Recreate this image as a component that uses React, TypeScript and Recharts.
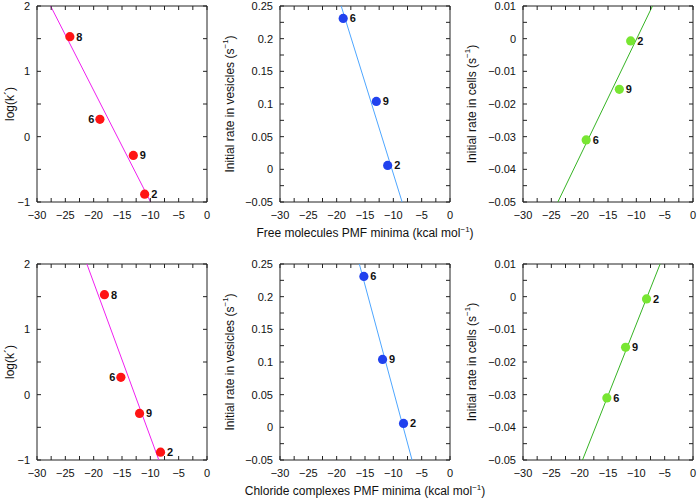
import { ComposedChart, Scatter, Line, XAxis, YAxis, ReferenceArea, LabelList } from "recharts";

// compounds and PMF minima (kcal/mol)
const compounds = ["8", "6", "9", "2"];
const freeMinima = [-24.2, -18.9, -13.0, -11.0];
const chlorideMinima = [-18.1, -15.2, -11.9, -8.2];
const logK = [1.53, 0.265, -0.287, -0.88];

// rate data only for 6, 9, 2
const rateCompounds = ["6", "9", "2"];
const freeRateMinima = [-18.85, -13.0, -11.0];
const chlorideRateMinima = [-15.2, -11.9, -8.2];
const vesicleRate = [0.231, 0.104, 0.006];
const cellRate = [-0.031, -0.0155, -0.0007];

// fitted lines, end points
const freeLogKFitX = [-27.6, -9.95];
const chlorideLogKFitX = [-21.2, -8.5];
const logKFitY = [2, -1];
const freeVesicleFitX = [-19.2, -8.45];
const chlorideVesicleFitX = [-16.0, -6.7];
const vesicleFitY = [0.25, -0.05];
const freeCellFitX = [-23.85, -7.15];
const chlorideCellFitX = [-19.5, -5.8];
const cellFitY = [-0.05, 0.01];

const xTicks = [-30, -27.5, -25, -22.5, -20, -17.5, -15, -12.5, -10, -7.5, -5, -2.5, 0];
const xMajor = [-30, -25, -20, -15, -10, -5, 0];
const logKTicks = [-1, -0.5, 0, 0.5, 1, 1.5, 2];
const logKMajor = [-1, 0, 1, 2];
const vesicleTicks = [-0.05, -0.025, 0, 0.025, 0.05, 0.075, 0.1, 0.125, 0.15, 0.175, 0.2, 0.225, 0.25];
const vesicleMajor = [-0.05, 0, 0.05, 0.1, 0.15, 0.2, 0.25];
const cellTicks = [-0.05, -0.045, -0.04, -0.035, -0.03, -0.025, -0.02, -0.015, -0.01, -0.005, 0, 0.005, 0.01];
const cellMajor = [-0.05, -0.04, -0.03, -0.02, -0.01, 0, 0.01];

const FONT = "'Liberation Sans', Arial, Helvetica, sans-serif";
const PW = 170;
const PH = 196;
const ML = 60;
const MR = 8;
const MT = 8;
const XH = 42;
const TICK = 4;
const INK = "#222";

const zip = (names: string[], xs: number[], ys: number[]) =>
  names.map((name, i) => ({ name, x: xs[i], y: ys[i] }));
const fitLine = (xs: number[], ys: number[]) => xs.map((x, i) => ({ x, y: ys[i] }));
const fmt = (v: number) => String(v).replace("-", "\u2212");
const isMajor = (v: number, major: number[]) => major.some((m) => Math.abs(m - v) < 1e-9);

const Sup = ({ text }: { text: string }) => (
  <>
    <tspan>{text} (s</tspan>
    <tspan dy={-5} fontSize={8}>{"\u22121"}</tspan>
    <tspan dy={5}>)</tspan>
  </>
);

function Panel(props: any) {
  const { left, top, points, fit, domain, yTicks, yMajor, color, lineColor, yLabel, yLabelOffset, xLabel, leftNames } = props;

  const xTick = (p: any) => {
    const v = p.payload.value;
    const bottom = p.y - 17;
    return (
      <g>
        <line x1={p.x} y1={bottom} x2={p.x} y2={bottom - TICK} stroke={INK} />
        <line x1={p.x} y1={bottom - PH} x2={p.x} y2={bottom - PH + TICK} stroke={INK} />
        {isMajor(v, xMajor) && (
          <text x={p.x} y={p.y} textAnchor="middle" fontSize={11} fill="#111" fontFamily={FONT}>
            {fmt(v)}
          </text>
        )}
      </g>
    );
  };

  const yTick = (p: any) => {
    const v = p.payload.value;
    const l = p.x + 7;
    return (
      <g>
        <line x1={l} y1={p.y} x2={l + TICK} y2={p.y} stroke={INK} />
        <line x1={l + PW} y1={p.y} x2={l + PW - TICK} y2={p.y} stroke={INK} />
        {isMajor(v, yMajor) && (
          <text x={p.x} y={p.y + 4} textAnchor="end" fontSize={11} fill="#111" fontFamily={FONT}>
            {fmt(v)}
          </text>
        )}
      </g>
    );
  };

  const pointLabel = (p: any) => {
    const vb = p.viewBox ?? p;
    const cx = vb.x + (vb.width ?? 0) / 2;
    const cy = vb.y + (vb.height ?? 0) / 2;
    const onLeft = leftNames.includes(String(p.value));
    return (
      <text
        x={onLeft ? cx - 5.5 : cx + 6.5}
        y={cy + 4}
        textAnchor={onLeft ? "end" : "start"}
        fontSize={11}
        fontWeight="bold"
        fill="#111"
        fontFamily={FONT}
      >
        {p.value}
      </text>
    );
  };

  return (
    <div style={{ position: "absolute", left: left - ML, top: top - MT }}>
      <ComposedChart width={ML + PW + MR} height={MT + PH + XH} margin={{ top: MT, right: MR, left: 0, bottom: 0 }}>
        <XAxis
          type="number"
          dataKey="x"
          domain={[-30, 0]}
          ticks={xTicks}
          interval={0}
          allowDataOverflow
          tickSize={0}
          tickMargin={17}
          tickLine={false}
          axisLine={false}
          tick={xTick}
          height={XH}
          label={
            xLabel
              ? {
                  content: (lp: any) => {
                    const vb = lp.viewBox;
                    return (
                      <text x={vb.x + vb.width / 2} y={vb.y + 35} textAnchor="middle" fontSize={12} fill="#111" fontFamily={FONT}>
                        <tspan>{xLabel} (kcal mol</tspan>
                        <tspan dy={-5} fontSize={8}>{"\u22121"}</tspan>
                        <tspan dy={5}>)</tspan>
                      </text>
                    );
                  },
                }
              : undefined
          }
        />
        <YAxis
          type="number"
          dataKey="y"
          domain={domain}
          ticks={yTicks}
          interval={0}
          allowDataOverflow
          tickSize={0}
          tickMargin={7}
          tickLine={false}
          axisLine={false}
          tick={yTick}
          width={ML}
          label={{
            content: (lp: any) => {
              const vb = lp.viewBox;
              const cx = vb.x + vb.width - yLabelOffset;
              const cy = vb.y + vb.height / 2;
              return (
                <text x={cx} y={cy} transform={`rotate(-90 ${cx} ${cy})`} textAnchor="middle" dominantBaseline="central" fontSize={12} fill="#111" fontFamily={FONT}>
                  {yLabel}
                </text>
              );
            },
          }}
        />
        <ReferenceArea x1={-30} x2={0} y1={domain[0]} y2={domain[1]} fill="none" fillOpacity={0} stroke={INK} strokeWidth={1} strokeOpacity={1} />
        <Scatter
          data={points}
          isAnimationActive={false}
          shape={(s: any) => <circle cx={s.cx} cy={s.cy} r={4.6} fill={color} />}
        >
          <LabelList dataKey="name" content={pointLabel} />
        </Scatter>
        <Line data={fit} dataKey="y" type="linear" stroke={lineColor} strokeWidth={1} dot={false} activeDot={false} isAnimationActive={false} />
      </ComposedChart>
    </div>
  );
}

const RED = "#ff1414";
const MAGENTA = "#f020f0";
const BLUE = "#2142ee";
const LIGHTBLUE = "#4ea6ff";
const GREEN = "#78e632";
const DARKGREEN = "#36b424";

export default function App() {
  const cols = [37, 280, 523];
  const rows = [6, 264];
  const logLabel = (
    <tspan>
      log(k{"\u00b4"})
    </tspan>
  );
  return (
    <div style={{ position: "absolute", left: 0, top: 0, width: 699, height: 500, background: "#fff", fontFamily: FONT }}>
      <style>{".recharts-surface{overflow:visible}"}</style>
      <Panel
        left={cols[0]} top={rows[0]}
        points={zip(compounds, freeMinima, logK)}
        fit={fitLine(freeLogKFitX, logKFitY)}
        domain={[-1, 2]} yTicks={logKTicks} yMajor={logKMajor}
        color={RED} lineColor={MAGENTA}
        yLabel={logLabel} yLabelOffset={27}
        leftNames={["6"]}
      />
      <Panel
        left={cols[1]} top={rows[0]}
        points={zip(rateCompounds, freeRateMinima, vesicleRate)}
        fit={fitLine(freeVesicleFitX, vesicleFitY)}
        domain={[-0.05, 0.25]} yTicks={vesicleTicks} yMajor={vesicleMajor}
        color={BLUE} lineColor={LIGHTBLUE}
        yLabel={<Sup text="Initial rate in vesicles" />} yLabelOffset={50}
        xLabel="Free molecules PMF minima"
        leftNames={[]}
      />
      <Panel
        left={cols[2]} top={rows[0]}
        points={zip(rateCompounds, freeRateMinima, cellRate)}
        fit={fitLine(freeCellFitX, cellFitY)}
        domain={[-0.05, 0.01]} yTicks={cellTicks} yMajor={cellMajor}
        color={GREEN} lineColor={DARKGREEN}
        yLabel={<Sup text="Initial rate in cells" />} yLabelOffset={51}
        leftNames={[]}
      />
      <Panel
        left={cols[0]} top={rows[1]}
        points={zip(compounds, chlorideMinima, logK)}
        fit={fitLine(chlorideLogKFitX, logKFitY)}
        domain={[-1, 2]} yTicks={logKTicks} yMajor={logKMajor}
        color={RED} lineColor={MAGENTA}
        yLabel={logLabel} yLabelOffset={27}
        leftNames={["6"]}
      />
      <Panel
        left={cols[1]} top={rows[1]}
        points={zip(rateCompounds, chlorideRateMinima, vesicleRate)}
        fit={fitLine(chlorideVesicleFitX, vesicleFitY)}
        domain={[-0.05, 0.25]} yTicks={vesicleTicks} yMajor={vesicleMajor}
        color={BLUE} lineColor={LIGHTBLUE}
        yLabel={<Sup text="Initial rate in vesicles" />} yLabelOffset={50}
        xLabel="Chloride complexes PMF minima"
        leftNames={[]}
      />
      <Panel
        left={cols[2]} top={rows[1]}
        points={zip(rateCompounds, chlorideRateMinima, cellRate)}
        fit={fitLine(chlorideCellFitX, cellFitY)}
        domain={[-0.05, 0.01]} yTicks={cellTicks} yMajor={cellMajor}
        color={GREEN} lineColor={DARKGREEN}
        yLabel={<Sup text="Initial rate in cells" />} yLabelOffset={51}
        leftNames={[]}
      />
    </div>
  );
}
